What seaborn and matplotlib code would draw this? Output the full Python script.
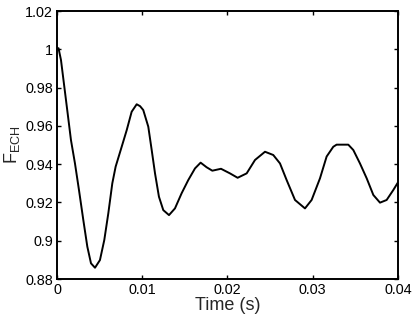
import numpy as np
import pandas as pd
import seaborn as sns
import matplotlib
matplotlib.use("Agg")
import matplotlib.pyplot as plt

# values
time_s = [0.0, 0.00018, 0.00047, 0.00086, 0.00125, 0.00164, 0.00211, 0.00258,
          0.00309, 0.00356, 0.00399, 0.00446, 0.00504, 0.00555, 0.00602, 0.00649,
          0.00688, 0.00759, 0.00818, 0.00876, 0.00935, 0.00975, 0.01012, 0.01071,
          0.01111, 0.0115, 0.01196, 0.01247, 0.01314, 0.01384, 0.01462, 0.0154,
          0.01619, 0.01685, 0.01755, 0.01822, 0.01924, 0.02029, 0.02119, 0.02225,
          0.02323, 0.0244, 0.02537, 0.02616, 0.02694, 0.02792, 0.02909, 0.02987,
          0.03085, 0.03163, 0.03241, 0.0328, 0.03417, 0.03476, 0.03554, 0.03633,
          0.03711, 0.03789, 0.03867, 0.03945, 0.04]
f_ech = [1.0004, 1.0006, 0.9944, 0.9805, 0.9666, 0.9526, 0.9404, 0.9265,
         0.9108, 0.8969, 0.8882, 0.8859, 0.8899, 0.9004, 0.9143, 0.9300,
         0.9387, 0.9491, 0.9578, 0.9674, 0.9713, 0.9703, 0.9683, 0.9596,
         0.9474, 0.9352, 0.9230, 0.9160, 0.9134, 0.9169, 0.9248, 0.9317,
         0.9378, 0.9408, 0.9384, 0.9366, 0.9376, 0.9352, 0.9329, 0.9352,
         0.9422, 0.9465, 0.9448, 0.9404, 0.9317, 0.9213, 0.9169, 0.9213,
         0.9326, 0.9440, 0.9491, 0.9502, 0.9502, 0.9474, 0.9404, 0.9326,
         0.9239, 0.9199, 0.9213, 0.9265, 0.9305]

x_ticks = [0, 0.01, 0.02, 0.03, 0.04]
x_labels = ["0", "0.01", "0.02", "0.03", "0.04"]
y_ticks = [0.88, 0.9, 0.92, 0.94, 0.96, 0.98, 1.0, 1.02]
y_labels = ["0.88", "0.9", "0.92", "0.94", "0.96", "0.98", "1", "1.02"]

sns.set_theme(style="ticks")
plt.rcParams['font.family'] = ['Liberation Sans', 'DejaVu Sans']
plt.rcParams['mathtext.default'] = 'regular'

data = pd.DataFrame({"time": time_s, "value": f_ech})

fig = plt.figure(figsize=(4.15, 3.16), dpi=100)
ax = fig.add_axes([0.1373, 0.117, 0.8217, 0.848])

sns.lineplot(x="time", y="value", data=data, color="black", linewidth=1.4,
             sort=False, ax=ax)

ax.set_xlim(0, 0.04)
ax.set_ylim(0.88, 1.02)
ax.set_xticks(x_ticks)
ax.set_xticklabels(x_labels)
ax.set_yticks(y_ticks)
ax.set_yticklabels(y_labels)
ax.tick_params(direction="in", length=3, width=1, labelsize=10.4, pad=3,
               top=True, right=True, colors="black")
for s in ax.spines.values():
    s.set_linewidth(1.4)
    s.set_color("black")
    s.set_visible(True)

ax.set_xlabel("Time (s)", fontsize=13, labelpad=-0.5)
ax.set_ylabel("F$_{ECH}$", fontsize=13, labelpad=2)

fig.savefig("out.png", dpi=100)
